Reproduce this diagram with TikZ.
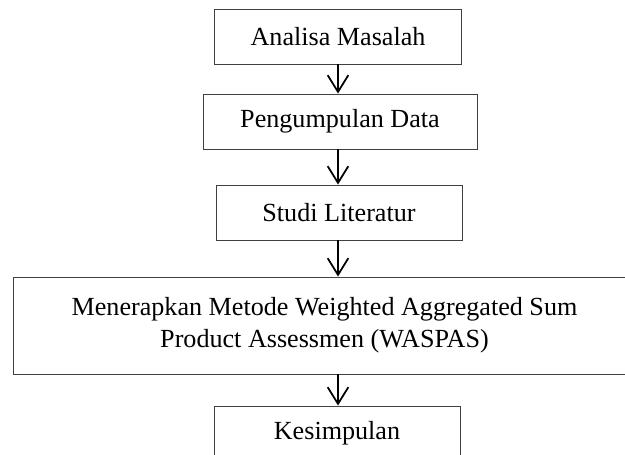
\documentclass[tikz,border=0pt]{standalone}
\usepackage{fontspec}
\setmainfont{Liberation Serif}
\usetikzlibrary{arrows.meta}
\tikzstyle{flowbox} = [rectangle, minimum height=1.65cm, inner sep=0, text centered, draw=black!75, line width=0.8pt, font=\fontsize{22.3}{27.3}\selectfont]
\tikzstyle{arrow} = [line width=1.5pt, -{Straight Barb[length=0.5cm,width=0.62cm,line width=1.5pt]}]

\begin{document}
\begin{tikzpicture}[x=0.03cm,y=-0.03cm]
\clip (0,0) rectangle (625,455);

\node[flowbox, minimum width=7.41cm] (analisa) at (338,36.5) {Analisa Masalah};
\node[flowbox, minimum width=8.22cm] (data) at (340,121.5) {Pengumpulan Data};
\node[flowbox, minimum width=7.38cm] (studi) at (339,212.5) {Studi Literatur};
\node[flowbox, minimum width=18.69cm, minimum height=2.91cm, align=center] (waspas) at (324.5,325.5)
	{Menerapkan Metode Weighted Aggregated Sum\\Product Assessmen (WASPAS)};
\node[flowbox, minimum width=7.38cm] (kesimpulan) at (337,433.5) {Kesimpulan};

\draw[arrow] (analisa) -- (analisa |- data.north);
\draw[arrow] (analisa |- data.south) -- (analisa |- studi.north);
\draw[arrow] (analisa |- studi.south) -- (analisa |- waspas.north);
\draw[arrow] (analisa |- waspas.south) -- (analisa |- kesimpulan.north);
\end{tikzpicture}
\end{document}
